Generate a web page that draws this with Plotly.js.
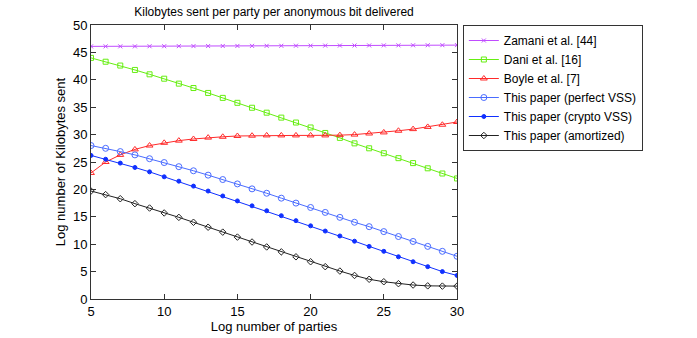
<!DOCTYPE html>
<html>
<head>
<meta charset="utf-8">
<script src="https://cdn.plot.ly/plotly-3.0.1.min.js"></script>
<style>
  html, body { margin: 0; padding: 0; background: #fff; }
  #plot1 { width: 697px; height: 338px; }
</style>
</head>
<body>
<div id="plot1"></div>
<script>
// log number of parties
var parties = [5,6,7,8,9,10,11,12,13,14,15,16,17,18,19,20,21,22,23,24,25,26,27,28,29,30];

var zamani = [46.1,46.1,46.1,46.1,46.12,46.13,46.14,46.15,46.16,46.17,46.18,46.19,46.2,46.21,46.22,46.23,46.24,46.25,46.26,46.27,46.28,46.29,46.3,46.31,46.32,46.33];
var dani = [44.0,43.3,42.6,41.8,41.0,40.2,39.3,38.5,37.6,36.7,35.8,34.9,34.0,33.1,32.2,31.3,30.3,29.4,28.4,27.5,26.6,25.7,24.8,23.85,22.9,22.0];
var boyle = [23.0,25.0,26.3,27.3,28.0,28.5,28.9,29.2,29.45,29.6,29.75,29.8,29.85,29.85,29.85,29.85,29.85,29.9,30.0,30.2,30.4,30.7,31.0,31.4,31.8,32.3];
var perfectVSS = [28.0,27.5,26.9,26.3,25.6,24.9,24.15,23.4,22.6,21.8,21.0,20.1,19.3,18.4,17.5,16.7,15.8,14.9,14.0,13.2,12.3,11.4,10.5,9.6,8.7,7.8];
var cryptoVSS = [26.2,25.5,24.8,24.0,23.2,22.3,21.5,20.6,19.7,18.8,17.9,17.0,16.1,15.2,14.3,13.35,12.4,11.5,10.55,9.6,8.7,7.7,6.8,5.9,5.0,4.3];
var amortized = [19.7,19.05,18.3,17.4,16.6,15.7,14.9,14.0,13.1,12.2,11.3,10.4,9.5,8.6,7.7,6.8,5.9,5.1,4.3,3.6,3.15,2.8,2.55,2.4,2.35,2.35];

var names = ['Zamani et al. [44]', 'Dani et al. [16]', 'Boyle et al. [7]',
             'This paper (perfect VSS)', 'This paper (crypto VSS)', 'This paper (amortized)'];

function line(y, name, color, symbol, size){
  return {
    x: parties, y: y, name: name, type: 'scatter', mode: 'lines+markers',
    line: {color: color, width: 1},
    marker: {symbol: symbol, size: size, color: color, line: {color: color, width: 1}}
  };
}

var data = [
  line(zamani, names[0], '#c04cff', 'x-thin-open', 4),
  line(dani, names[1], '#66ee11', 'square-open', 5),
  line(boyle, names[2], '#ff2a2a', 'triangle-up-open', 6),
  line(perfectVSS, names[3], '#4a6cff', 'circle-open', 6),
  line(cryptoVSS, names[4], '#1030ff', 'circle', 4),
  line(amortized, names[5], '#222222', 'diamond-open', 5)
];

var layout = {
  width: 697, height: 338,
  margin: {l: 91, r: 240, t: 25, b: 39},
  paper_bgcolor: '#fff', plot_bgcolor: '#fff',
  font: {family: 'Liberation Sans, Arial, sans-serif', size: 13, color: '#000'},
  title: {text: 'Kilobytes sent per party per anonymous bit delivered',
          font: {size: 12}, xref: 'paper', x: 0.5, xanchor: 'center',
          y: 0.966, yanchor: 'middle'},
  showlegend: true,
  legend: {x: 1.016, y: 1.0, xanchor: 'left', yanchor: 'top',
           bordercolor: '#333', borderwidth: 1, bgcolor: '#fff',
           font: {size: 12}, tracegroupgap: 0, itemwidth: 30},
  xaxis: {
    title: {text: 'Log number of parties', font: {size: 13}, standoff: 0},
    range: [5, 30], tickvals: [5,10,15,20,25,30],
    showgrid: false, zeroline: false,
    showline: true, linecolor: '#333', linewidth: 1, mirror: 'ticks',
    ticks: 'inside', ticklen: 5, tickcolor: '#333', fixedrange: true
  },
  yaxis: {
    title: {text: 'Log number of Kilobytes sent', font: {size: 13}, standoff: 4},
    range: [0, 50], dtick: 5,
    showgrid: false, zeroline: false,
    showline: true, linecolor: '#333', linewidth: 1, mirror: 'ticks',
    ticks: 'inside', ticklen: 5, tickcolor: '#333', fixedrange: true
  }
};

Plotly.newPlot('plot1', data, layout, {displayModeBar: false, staticPlot: true});
</script>
</body>
</html>
